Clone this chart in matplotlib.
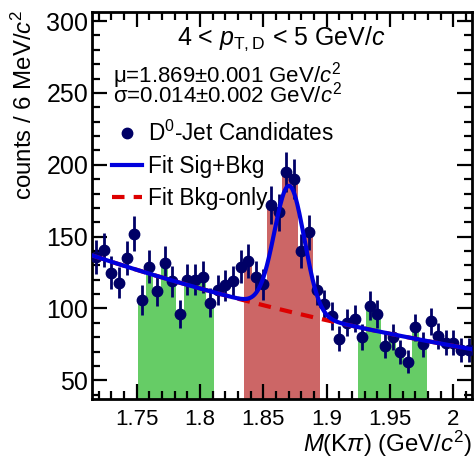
import numpy as np
import matplotlib
matplotlib.use("Agg")
import matplotlib.pyplot as plt
from matplotlib.lines import Line2D
from matplotlib.ticker import MultipleLocator, FixedLocator, FixedFormatter

plt.rcParams['font.family'] = ['Liberation Sans', 'DejaVu Sans']
plt.rcParams['mathtext.fontset'] = 'custom'
plt.rcParams['mathtext.rm'] = 'Liberation Sans'
plt.rcParams['mathtext.it'] = 'Liberation Sans:italic'
plt.rcParams['mathtext.bf'] = 'Liberation Sans:bold'

# ---- data ----
bin_lo = 1.715
bin_width = 0.006
counts = [136, 141, 125, 118, 135, 152, 106, 129, 112, 132,
          119, 96, 120, 120, 122, 104, 113, 116, 119, 129,
          133, 122, 117, 172, 167, 195, 190, 140, 153, 113,
          103, 95, 79, 90, 93, 80, 102, 96, 74, 80,
          70, 63, 87, 75, 91, 81, 76, 76, 71, 71]
sideband1 = (6, 16)    # bin index range [start, end)
signal_bins = (20, 30)
sideband2 = (35, 44)

# fit curve parameters (as drawn)
bkg_amp = 136.0
bkg_x0 = 1.718
bkg_slope = -2.16
sig_amp = 87.5
sig_mu = 1.8705
sig_sigma = 0.0118

xticks = [1.75, 1.8, 1.85, 1.9, 1.95, 2.0]
xticklabels = ['1.75', '1.8', '1.85', '1.9', '1.95', '2']
yticks = [50, 100, 150, 200, 250, 300]

# ---- figure ----
W, H = 476, 458
fig = plt.figure(figsize=(W / 100, H / 100), dpi=100)
ax = fig.add_axes([92.4 / W, 1 - 399 / H, (472.4 - 92.4) / W, (399 - 12.5) / H])

counts = np.array(counts, dtype=float)
n = len(counts)
centers = bin_lo + bin_width * (np.arange(n) + 0.5)
errs = np.sqrt(counts)

green = '#66cc66'
red = '#cc6666'
for (a, b), col in [(sideband1, green), (signal_bins, red), (sideband2, green)]:
    ax.bar(centers[a:b], counts[a:b], width=bin_width, color=col,
           edgecolor='none', zorder=1, align='center')

xf = np.linspace(bin_lo, bin_lo + bin_width * n, 800)
bkg = bkg_amp * np.exp(bkg_slope * (xf - bkg_x0))
sig = sig_amp * np.exp(-0.5 * ((xf - sig_mu) / sig_sigma) ** 2)

navy = '#000066'
ax.errorbar(centers, counts, yerr=errs, fmt='o', color=navy, ms=7.5,
            elinewidth=2.0, capsize=0, zorder=3)
ax.plot(xf, bkg, color='#dd0000', lw=3, ls=(0, (3, 2.2)), zorder=4)
ax.plot(xf, bkg + sig, color='#0000dd', lw=3, zorder=5)

ax.set_xlim(bin_lo, bin_lo + bin_width * n)
ax.set_ylim(37, 306)

ax.xaxis.set_major_locator(FixedLocator(xticks))
ax.xaxis.set_major_formatter(FixedFormatter(xticklabels))
ax.xaxis.set_minor_locator(MultipleLocator(0.01))
ax.yaxis.set_major_locator(FixedLocator(yticks))
ax.yaxis.set_minor_locator(MultipleLocator(10))

ax.tick_params(which='both', direction='in', top=True, right=True, width=1.6)
ax.tick_params(which='major', length=11)
ax.tick_params(which='minor', length=6)
ax.tick_params(axis='x', which='major', labelsize=16, pad=7)
ax.tick_params(axis='y', which='major', labelsize=18, pad=3)
for s in ax.spines.values():
    s.set_linewidth(2)

fig.text(472 / W, 1 - 452 / H, r'$M$(K$\pi$) (GeV/$c^{2}$)', ha='right',
         va='baseline', fontsize=17.3)
fig.text(24 / W, 1 - 10 / H, r'counts / 6 MeV/$c^{2}$', ha='center',
         va='top', rotation=90, fontsize=17.3)

fig.text(281 / W, 1 - 45 / H, r'4 < $p_{\mathrm{T,D}}$ < 5 GeV/$c$',
         ha='center', va='baseline', fontsize=18)
fig.text(113 / W, 1 - 102 / H,
         'μ=1.869±0.001 GeV/$c^{2}$\nσ=0.014±0.002 GeV/$c^{2}$',
         ha='left', va='baseline', fontsize=16, linespacing=0.55,
         multialignment='left')

handles = [
    Line2D([], [], marker='o', color=navy, ls='none', ms=7.5),
    Line2D([], [], color='#0000dd', lw=3),
    Line2D([], [], color='#dd0000', lw=3, ls=(0, (3, 2.2))),
]
labels = [r'D$^{0}$-Jet Candidates', 'Fit Sig+Bkg', 'Fit Bkg-only']
fig.legend(handles, labels, loc='upper left',
           bbox_to_anchor=(112 / W, 1 - 121 / H), frameon=False,
           fontsize=16.3, handlelength=1.33, handletextpad=0.25,
           labelspacing=0.39, borderpad=0, borderaxespad=0)

fig.savefig('out.png', dpi=100)
